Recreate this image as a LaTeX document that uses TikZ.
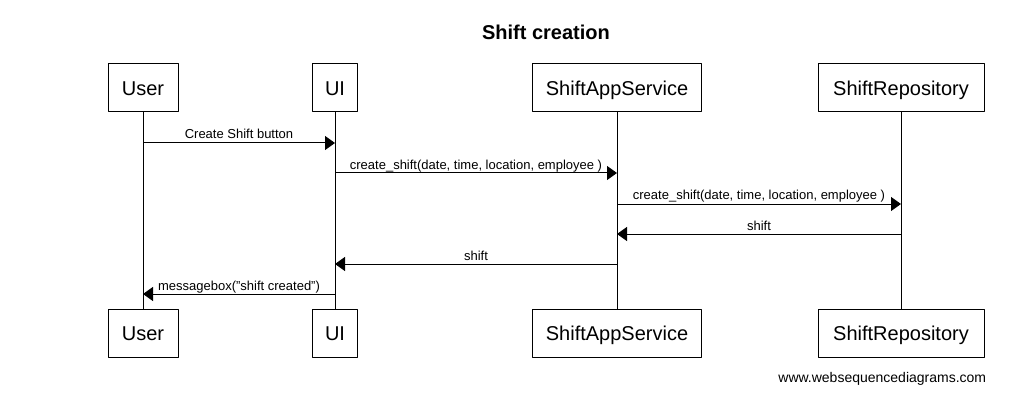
\documentclass[tikz,border=0pt]{standalone}
\usepackage{fontspec}
\setmainfont{Liberation Sans}
\usetikzlibrary{arrows.meta}
\begin{document}
\begin{tikzpicture}[x=1pt,y=-1pt,line join=round,line width=1pt,
  actor/.style={draw,fill=white,minimum height=48pt,inner sep=0pt,
    text height=14.3pt,text depth=0pt,font=\fontsize{20}{24}\selectfont},
  msg/.style={-{Triangle[length=10pt,width=14pt]}},
  lbl/.style={midway,anchor=base,yshift=4pt,font=\fontsize{13}{15}\selectfont}]
    \useasboundingbox (0,0) rectangle (1015,401);
    % title
    \node (title) at (546,40) [anchor=base,font=\bfseries\fontsize{20}{24}\selectfont] {Shift creation};

    % participants, top and bottom
    \node (user)   at (143,88) [actor,minimum width=70pt]  {User};
    \node (ui)     at (335,88) [actor,minimum width=45pt]  {UI};
    \node (app)    at (617,88) [actor,minimum width=169pt] {ShiftAppService};
    \node (repo)   at (901,88) [actor,minimum width=166pt] {ShiftRepository};
    \node (user-b) at (143,333) [actor,minimum width=70pt]  {User};
    \node (ui-b)   at (335,333) [actor,minimum width=45pt]  {UI};
    \node (app-b)  at (617,333) [actor,minimum width=169pt] {ShiftAppService};
    \node (repo-b) at (901,333) [actor,minimum width=166pt] {ShiftRepository};

    % lifelines
    \draw (user) -- (user-b);
    \draw (ui) -- (ui-b);
    \draw (app) -- (app-b);
    \draw (repo) -- (repo-b);

    % message points
    \coordinate (u1) at (143,143);  \coordinate (i1) at (335,143);
    \coordinate (i2) at (335,173);  \coordinate (a2) at (617,173);
    \coordinate (a3) at (617,204);  \coordinate (r3) at (901,204);
    \coordinate (r4) at (901,234);  \coordinate (a4) at (617,234);
    \coordinate (a5) at (617,264);  \coordinate (i5) at (335,264);
    \coordinate (i6) at (335,294);  \coordinate (u6) at (143,294);

    % messages
    \draw[msg] (u1) -- (i1) node[lbl] {Create Shift button};
    \draw[msg] (i2) -- (a2) node[lbl] {create\_shift(date, time, location, employee )};
    \draw[msg] (a3) -- (r3) node[lbl] {create\_shift(date, time, location, employee )};
    \draw[msg] (r4) -- (a4) node[lbl] {shift};
    \draw[msg] (a5) -- (i5) node[lbl] {shift};
    \draw[msg] (i6) -- (u6) node[lbl] {messagebox("shift created")};

    % footer
    \node (footer) at (990,382) [anchor=base east,font=\fontsize{14}{16}\selectfont] {www.websequencediagrams.com};
  \end{tikzpicture}
\end{document}
